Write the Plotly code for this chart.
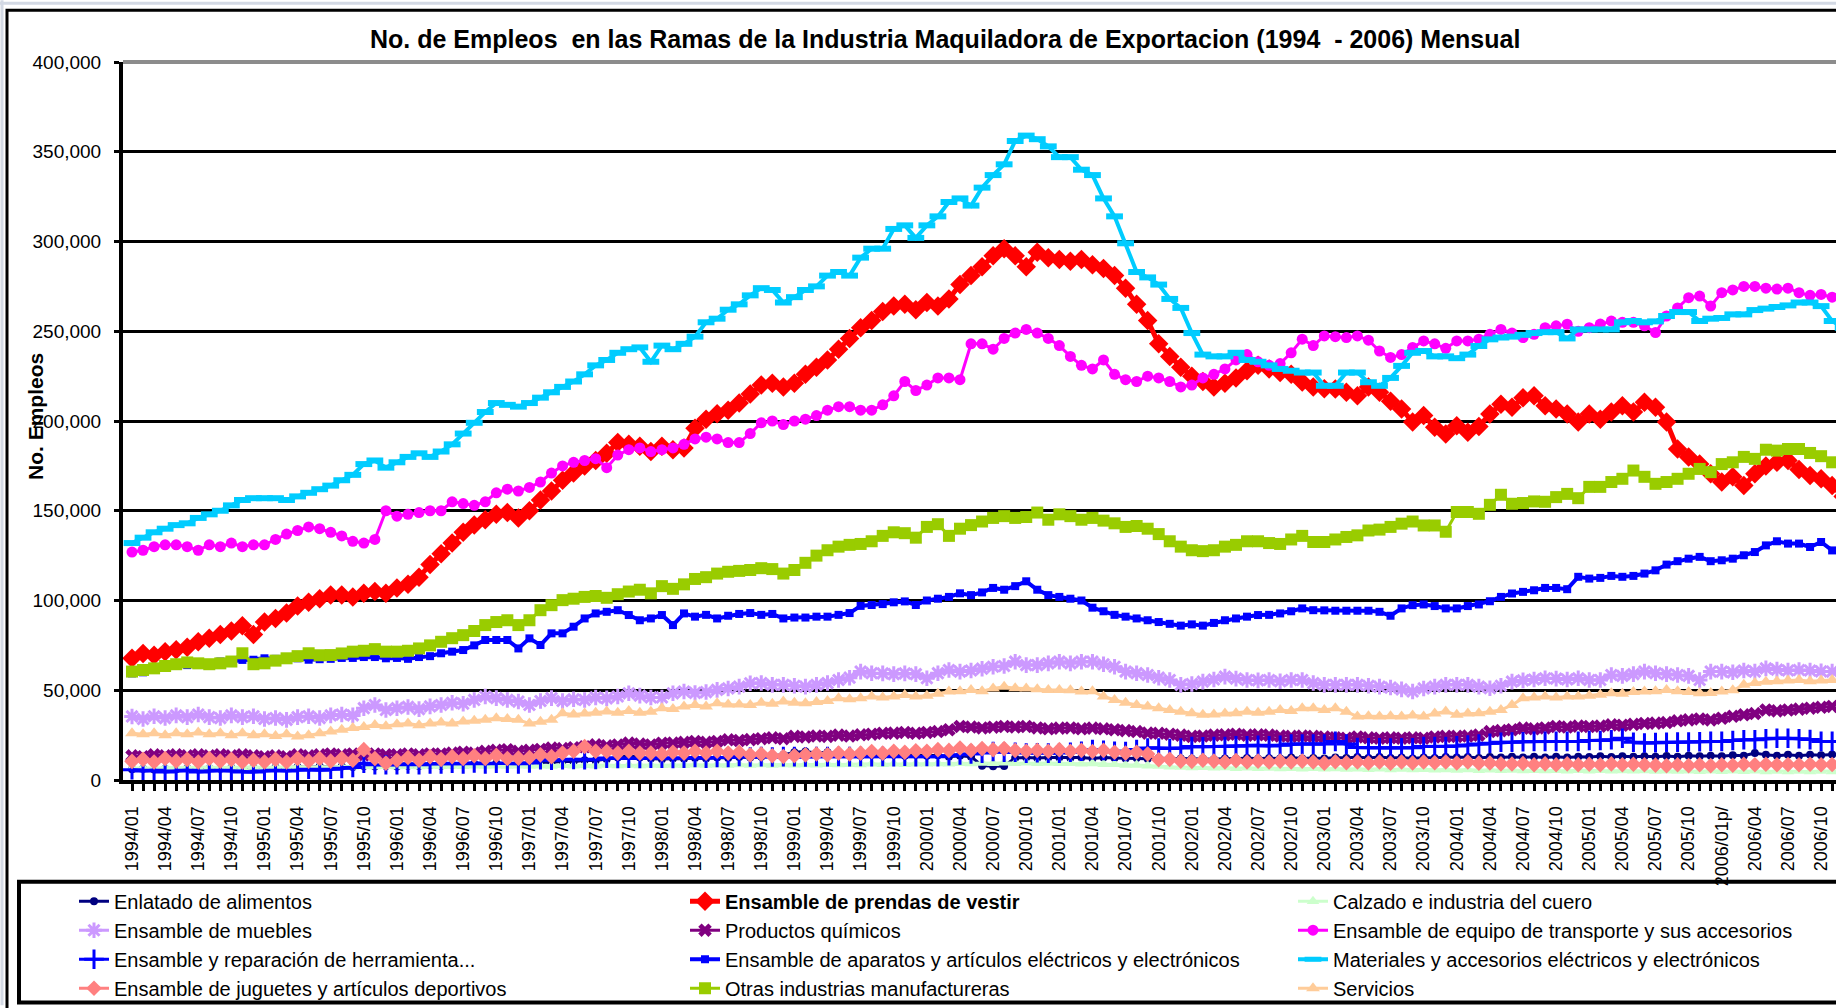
import plotly.graph_objects as go

# ---------------- categories ----------------
years = list(range(1994, 2007))
months = [f"{y}/{m:02d}" for y in years for m in range(1, 13)]
tick_labels = ["1994/01", "1994/04", "1994/07", "1994/10", "1995/01", "1995/04", "1995/07", "1995/10",
               "1996/01", "1996/04", "1996/07", "1996/10", "1997/01", "1997/04", "1997/07", "1997/10",
               "1998/01", "1998/04", "1998/07", "1998/10", "1999/01", "1999/04", "1999/07", "1999/10",
               "2000/01", "2000/04", "2000/07", "2000/10", "2001/01", "2001/04", "2001/07", "2001/10",
               "2002/01", "2002/04", "2002/07", "2002/10", "2003/01", "2003/04", "2003/07", "2003/10",
               "2004/01", "2004/04", "2004/07", "2004/10", "2005/01", "2005/04", "2005/07", "2005/10",
               "2006/01p/", "2006/04", "2006/07", "2006/10"]

# ---------------- series values (thousands of jobs) ----------------
enlatado = [
    6, 6.2, 5.8, 6.3, 6, 6.5, 6.2, 6.5, 6.3, 6.8, 6.5, 6.8,
    6.5, 7, 6.8, 7.2, 7, 7.5, 7.2, 7.5, 7.3, 7.8, 7.5, 7.8,
    7.5, 8, 7.8, 8.3, 8, 8.5, 8.3, 9, 8.8, 9.3, 9, 9.5,
    9.3, 10, 9.8, 10.5, 10.2, 11, 10.8, 11.5, 12.5, 13.7, 12.5, 12,
    11.5, 12, 11.8, 12.3, 12, 12.5, 12.2, 12.8, 12.5, 13, 13.5, 14,
    15.5, 15.9, 15, 15.5, 14.5, 14, 13.5, 14, 13.5, 14, 13.5, 14,
    13.5, 13.8, 13, 13.5, 13, 8, 7.6, 7.8, 12.2, 12.5, 12.2, 12.5,
    12.5, 12.2, 12.5, 12, 12.5, 12.2, 12, 12.2, 11.8, 12.2, 11.8, 12,
    11.8, 12, 11.5, 12, 11.8, 12.2, 11.8, 12.2, 12, 12.5, 12, 12.2,
    12, 12.5, 12.2, 12.8, 12.3, 12.8, 12.2, 12.5, 12, 12.5, 12.2, 12.8,
    12.5, 12.8, 12.3, 12.8, 12.5, 13, 12.6, 13, 12.5, 13, 12.5, 13,
    12.8, 13.2, 12.8, 13.3, 12.9, 13.3, 13, 13.4, 13, 13.5, 13.2, 13.5,
    13.3, 13.8, 13.5, 15, 14, 13.5, 14, 13.5, 14, 13.8, 14.2, 13.8]

prendas = [
    67.8, 70.5, 69.5, 71.5, 72.5, 74, 77, 79, 81, 83, 86, 81,
    88, 90, 93, 97, 99, 101, 103, 103, 102, 104, 105, 104,
    107, 109, 113, 120, 126, 132, 138, 142, 145, 148, 149, 146,
    150, 156, 161, 167, 171, 175, 178, 182, 188, 187, 186, 183,
    186, 184, 185, 196, 201, 204, 206, 210, 215, 220, 221, 219,
    221, 226, 230, 234, 240, 246, 252, 256, 261, 264, 265, 262,
    266, 264, 268, 276, 281, 286, 292, 296, 292, 286, 294, 291,
    290, 289, 290, 287, 285, 281, 274, 265, 256, 243, 236, 230,
    225, 222, 219, 221, 224, 228, 231, 229, 227, 226, 221.7, 219,
    218, 217.8, 216, 214, 219, 216, 211, 206.7, 199.4, 203, 196.5, 192.8,
    197.4, 193.7, 197, 203.9, 209.4, 207.6, 213, 214, 208.5, 206.7, 203.9, 199.4,
    203.9, 201, 205, 208.5, 205, 210.4, 207.6, 199.4, 184.4, 180, 176, 170.6,
    166, 168.9, 164, 170.6, 175, 177, 178, 173, 169.6, 167.8, 164, 158]

calzado = [
    6.5, 6.8, 6.6, 7, 6.8, 7, 6.8, 7.2, 7, 7.2, 7, 7.2,
    7, 7.2, 7, 7.4, 7.2, 7.4, 7.2, 7.5, 7.4, 7.6, 7.5, 7.6,
    7.5, 7.7, 7.5, 7.8, 7.6, 7.8, 7.6, 8, 7.8, 8, 7.8, 8,
    7.8, 8, 7.8, 8.2, 8, 8.2, 8, 8.3, 8.1, 8.3, 8.1, 8.3,
    8.2, 8.4, 8.2, 8.5, 8.3, 8.5, 8.3, 8.6, 8.4, 8.6, 8.4, 8.6,
    8.5, 8.7, 8.5, 8.8, 8.6, 8.8, 8.6, 9, 8.8, 9, 8.8, 9,
    9, 9.2, 9, 9.4, 9.2, 9.5, 9.3, 9.6, 9.4, 9.6, 9.4, 9.5,
    9.3, 9.4, 9.1, 9.2, 8.8, 8.8, 8.4, 8.3, 7.9, 7.8, 7.4, 7.3,
    7, 7.1, 6.8, 6.9, 6.6, 6.8, 6.5, 6.7, 6.4, 6.6, 6.3, 6.5,
    6.2, 6.4, 6.1, 6.3, 6, 6.2, 5.9, 6.1, 5.8, 6, 5.7, 5.9,
    5.6, 5.8, 5.5, 5.7, 5.4, 5.6, 5.3, 5.5, 5.3, 5.5, 5.2, 5.4,
    5.2, 5.4, 5.1, 5.3, 5.1, 5.3, 5, 5.2, 5, 5.2, 4.9, 5.1,
    4.9, 5.1, 4.9, 5.1, 4.8, 5, 4.8, 5, 4.8, 5, 4.8, 5]

muebles = [
    35.4, 34, 35.5, 34.5, 36, 35, 36.5, 35, 34.5, 36, 35, 35.5,
    34, 34.5, 33.5, 35, 35.5, 34.5, 36, 36.5, 36, 40, 41.8, 39,
    40, 40.7, 39.5, 41, 41.8, 43, 42.5, 44.6, 46.5, 45.6, 44.6, 43.7,
    41.8, 44, 45.6, 44, 45, 44.6, 46, 45.5, 46.5, 48.3, 47, 46,
    46, 48.3, 49.3, 48.5, 49, 50.2, 51, 52, 53.9, 54, 53, 53,
    52.5, 52, 53, 54, 55.7, 57, 60.4, 59.5, 59.4, 59, 59.4, 59,
    56.7, 59.5, 61.3, 60.4, 61, 62, 63.1, 63.5, 65.9, 64, 64, 65,
    65.9, 65, 65.9, 65.9, 64.5, 63.1, 60.4, 59.5, 58.5, 57, 55.7, 53,
    53.5, 54.8, 56, 57.6, 56.5, 55.7, 55.5, 55.7, 55, 55.7, 55.7, 54,
    53, 53, 53, 53, 52.5, 52, 51.5, 50.5, 49.3, 51, 52, 53,
    53, 53, 52, 51.1, 52.5, 54.8, 55.5, 56, 56.7, 56.5, 56, 56.7,
    55.7, 55.7, 58.5, 58, 59, 60.4, 59.5, 59, 58.5, 58, 55.7, 60.4,
    60.4, 60, 61, 60.4, 62.2, 61.5, 61, 61.3, 61, 60.5, 60.4, 60]

quimicos = [
    13.5, 13, 14, 13.5, 14, 13.5, 14, 13.5, 14, 13.5, 14, 13.5,
    13, 13.5, 13, 14, 13.5, 14, 14.5, 14, 14.5, 14, 14.5, 14,
    14, 14.5, 14, 14.5, 14.5, 15, 15.5, 15, 16, 16.5, 16.9, 16,
    16.5, 17, 17.8, 17.5, 18, 18.5, 19.6, 19, 19.5, 20.6, 20, 19.5,
    20.5, 20.6, 21, 21.5, 21, 21.5, 22.4, 22, 22.5, 23, 23.5, 23,
    24.3, 24, 24.5, 24.3, 25, 24.5, 25.2, 25.5, 26, 26.1, 26.5, 26,
    26.5, 27, 28, 29.8, 29.5, 29, 29.4, 29.8, 29.5, 29.8, 29, 28.5,
    28.9, 29, 28.5, 28.9, 28.5, 28, 27.5, 27, 26.1, 26, 25.5, 25,
    24.3, 24.5, 25, 25.2, 25.5, 25, 25.2, 25, 24.5, 24.3, 24.5, 24.3,
    24, 23.5, 23.3, 24, 23.5, 23.3, 23.5, 23.3, 23.5, 23.3, 24, 24.3,
    24.3, 24.5, 25, 27, 27.5, 28, 28.9, 28.5, 29, 29.8, 29.5, 30,
    29.8, 30, 30.7, 30.5, 31, 31.5, 31.7, 32, 33, 33.5, 34, 33.5,
    34.4, 35.5, 36.3, 37, 39, 38.5, 39, 39.5, 40, 40.5, 41, 37]

transporte = [
    127, 128, 130, 131, 131, 130, 128, 131, 130, 132, 130, 131,
    131, 134, 137, 139, 141, 140, 138, 136, 133, 132, 134, 150,
    147, 148, 149, 150, 150, 155, 154, 153, 155, 160, 162, 161,
    163, 166, 171, 175, 177, 178, 179, 174, 181, 184, 185, 183,
    184, 185, 187, 190, 191, 190, 188, 188, 193, 199, 200, 198,
    200, 201, 203, 206, 208, 208, 206, 206, 209, 214, 222, 217,
    220, 224, 224, 223, 243, 243, 240, 246, 249, 251, 249, 246,
    242, 236, 231, 229, 234, 226, 223, 222, 225, 224, 222, 219,
    220, 224, 226, 229, 234, 237, 233, 231, 232, 238, 245.6, 242,
    247.4, 247, 246.5, 247.4, 245, 239, 235.4, 237, 241, 244.6, 243, 240.5,
    244.6, 244.6, 245.6, 248.3, 251, 249, 246.5, 248.3, 252, 253, 253.9, 250,
    252, 254, 255.7, 255, 255, 253, 249.3, 258.5, 263, 268.7, 269.6, 264,
    271.5, 273, 275, 275, 274, 273.5, 274, 271.5, 270, 270.5, 269, 267]

herramienta = [
    5.7, 5, 5.5, 4.5, 5, 5.5, 4.5, 5, 5.5, 5, 4.5, 4.4,
    5, 5.5, 5, 5.5, 6, 5.5, 6, 6.5, 7, 9.4, 8.5, 8.5,
    8.5, 9, 8.5, 9, 9, 9.4, 9, 9.5, 9, 9.4, 9.4, 9,
    9.5, 11.3, 11, 11.3, 11.5, 11.3, 11.5, 12.2, 12, 12.2, 12, 12.2,
    12.2, 12, 12.2, 12.5, 12.2, 12.5, 12.5, 13.1, 12.8, 13, 12.8, 13,
    13, 12.8, 13.1, 13, 13.1, 13, 13.1, 13, 13.1, 13, 13.2, 13,
    13.1, 13, 13.5, 14, 14.5, 15, 15.9, 15.5, 15.5, 15, 15.2, 15,
    15, 15.5, 16, 16.9, 16.5, 16, 15.9, 17, 17.8, 17.8, 17.5, 17.8,
    18.7, 18.5, 18.7, 18.7, 19, 19, 19.3, 19, 19.3, 20, 20, 20,
    20, 21.5, 20, 18.1, 18, 18, 17.8, 18, 18, 18.7, 18.7, 18.7,
    19, 19.5, 20, 20.5, 21, 21.1, 21.3, 21.5, 21.5, 21.5, 21.5, 21.5,
    22, 22, 22.4, 23.3, 21, 20.6, 20.8, 21, 21.1, 21.2, 21.3, 21.5,
    21.5, 22, 22.4, 22.4, 23, 23.3, 23.3, 23, 22.5, 21.5, 21.5, 21.5]

aparatos = [
    59.4, 60, 61.5, 62.5, 63.5, 64, 64.5, 65, 66, 66.5, 66.9, 67,
    67.8, 67.5, 67.5, 67.8, 67, 67.3, 67.5, 68, 68, 68.5, 68.5, 67.8,
    68, 67.5, 68.5, 69, 70.6, 71.5, 72.4, 75, 78, 78, 78, 73.3,
    78.9, 75.2, 81.7, 81.7, 85.4, 90, 92.8, 93.7, 94.6, 91.9, 89, 90,
    91.9, 86.3, 92.8, 91, 92, 90, 91.5, 92.5, 93, 92, 92.5, 90,
    90.5, 90.5, 91, 91, 92, 93, 97, 97.5, 98, 99, 99.5, 97.5,
    100, 101, 102, 104, 103, 104.5, 107, 106, 108, 110.7, 106, 103,
    102, 101, 100, 96, 94, 92, 91, 90, 89, 88, 87, 86,
    86.7, 86, 87.5, 89, 90, 91, 91.9, 92, 92.8, 94, 95.6, 94.6,
    94.5, 94.3, 94.3, 94.3, 94.3, 93.7, 91.5, 95.6, 97.4, 97.8, 96.9, 95.6,
    95.6, 96.9, 97.8, 99.6, 102, 103.9, 104.8, 105.7, 107, 107, 106.3, 113.2,
    112.2, 112.6, 113.7, 113.2, 113.7, 115, 116.8, 120, 121.9, 123.3, 124.3, 121.9,
    122.4, 123.3, 125.2, 127, 130.7, 133, 131.7, 131.7, 129.8, 132.6, 127.9, 126]

materiales = [
    132, 135, 138, 140, 142, 143, 146, 148, 150, 153, 156, 157,
    157, 157, 156, 158, 160, 162, 164, 167, 170, 176, 178, 174,
    177, 180, 182, 180, 183, 187, 193, 199, 205, 210, 209, 208,
    210, 213, 216, 219, 222, 226, 231, 234, 238, 240, 241, 233,
    242, 240, 243, 247, 255, 257, 262, 265, 270, 274, 273, 266,
    269, 273, 275, 281, 283, 281, 291, 296, 296, 307, 309, 302,
    309, 314, 322, 324, 320, 330, 337, 343, 356, 359, 357, 353,
    347, 347, 340, 337, 324, 314, 299, 283, 280, 276, 268, 263,
    249, 237, 236, 236, 238, 234, 233, 231, 229, 228, 227, 227,
    219.6, 219.6, 227, 227, 221.6, 219.6, 224, 230.7, 238, 239, 236, 236,
    235, 237, 241.8, 245.5, 246.5, 247, 248, 249, 249.5, 249.5, 246, 251,
    251, 251, 251, 255, 255.7, 255, 255.5, 258.5, 260.7, 260.7, 255.7, 257,
    257.4, 259.4, 259.4, 261.8, 262.6, 263.5, 264.4, 266, 266, 264, 255.7, 252]

juguetes = [
    10.4, 11.5, 10, 12, 10.5, 11.5, 10, 12, 10.5, 11.5, 10, 11,
    10, 11.5, 10, 12, 10.5, 12, 10.5, 12, 11, 16.9, 12, 9.4,
    11, 12.5, 11, 13, 11.5, 13, 12, 13.5, 12, 13.7, 12, 12.2,
    12.5, 14, 13, 15, 16, 18.7, 16, 15.9, 15, 16, 15, 15,
    14.5, 15.5, 15, 16, 15, 16, 15, 15.5, 14, 14.5, 13.5, 13.1,
    13.5, 14, 14.5, 14, 15, 14.5, 15, 15.9, 15, 16, 15.5, 16.3,
    16, 16.9, 16.5, 17.8, 16.5, 17.5, 16.9, 17.5, 16.5, 16, 16.5, 16,
    16.9, 16, 16.5, 15.9, 16.5, 15.5, 15, 15.5, 14.5, 11.3, 11.5, 10.5,
    10.4, 11, 10.5, 10, 10.8, 10, 10.5, 10, 10.5, 10, 10.5, 10,
    9.4, 10.2, 9.6, 10, 9.5, 10, 9.4, 10, 9.5, 10, 9.6, 10,
    9.5, 10, 9.4, 9.5, 9, 8.9, 9.2, 8.5, 9, 8.5, 9, 8.5,
    8.8, 8.5, 9, 8.5, 8.8, 8.5, 8.3, 8, 8.5, 8, 8.5, 8,
    8.5, 8.2, 8.8, 8.5, 8.8, 8.5, 8.6, 8.5, 8.8, 8.5, 8.6, 8.5]

otras = [
    60.4, 61.3, 62.2, 63.5, 64.5, 65.5, 65, 64.5, 65, 66, 70.6, 64.5,
    65, 66.5, 67.8, 69, 70.6, 69.5, 69.6, 70.5, 71.5, 72, 72.9, 71.5,
    71.5, 72, 73.3, 75, 77, 79, 80.7, 83, 86.3, 88, 89, 86.3,
    89, 94.6, 97.4, 100.2, 101, 102, 102.5, 101.5, 103.5, 105, 106, 104,
    108, 106.5, 109, 112, 113, 115, 116, 116.5, 117, 118, 117.5, 115,
    117, 121, 125, 128, 130, 131, 131.5, 133, 136, 138, 137.5, 135,
    141, 142.5, 136, 140, 142, 144, 146, 147, 146, 146.5, 149, 145,
    148, 147, 145, 146, 144.5, 143, 141, 141.5, 140, 137, 133, 130,
    128, 127.5, 128, 130, 131, 133, 133, 132, 131.5, 134, 136, 132.6,
    132.6, 134, 135.4, 136.3, 139, 139.5, 141, 142.8, 144, 141.8, 141.8, 138.3,
    149.3, 149.3, 148.3, 153.3, 158.9, 153.9, 154.3, 155.2, 155, 157.6, 159.4, 157,
    163.3, 163.3, 166, 167.8, 172.4, 168.9, 165, 166, 167.8, 170.6, 173.3, 171.5,
    176, 177, 180, 178.9, 184, 183.5, 184.4, 184.4, 182.2, 180.4, 177, 174]

servicios = [
    26.1, 25.5, 26, 25, 26, 25.5, 26.5, 25.5, 26, 25, 26, 25,
    25.5, 24.5, 25.5, 24.3, 25, 26, 27, 28, 28.9, 29.5, 30.7, 30,
    31, 31.5, 30.5, 31.5, 32, 31.5, 32.6, 33, 33.5, 34.4, 34, 33.5,
    31.5, 32.5, 33.5, 37.2, 36.5, 37, 37.5, 38.1, 37.5, 38.5, 37.5, 38,
    40, 39.5, 41, 41.8, 41, 42.8, 42, 42, 41.8, 43, 42.5, 43.7,
    43, 42.8, 43.5, 44, 45.6, 45, 45.5, 46.5, 46, 46.5, 47.4, 46.5,
    47, 48, 49.3, 49.5, 50.2, 49.5, 51, 52, 51.1, 51, 50.5, 50.2,
    50.2, 50, 49.3, 49.5, 46.5, 44.6, 43, 41.8, 41, 40, 39, 38,
    37.2, 36.3, 36.5, 37, 37.2, 38, 37.5, 38, 39, 38.5, 40, 40,
    39, 40, 38, 35.4, 35.5, 35.4, 35.5, 35.4, 36, 35.4, 37, 38.1,
    36.3, 37, 37.2, 38, 39, 41.8, 45.6, 46, 46.5, 46, 46.5, 46.5,
    47, 47.5, 48.3, 48, 49, 49.3, 49.5, 50.2, 49.5, 49, 48.3, 48.5,
    49.3, 50, 53, 54, 54.8, 55, 55.5, 55.7, 55, 55.5, 55.7, 55]

series_names = ["Enlatado de alimentos", "<b>Ensamble de prendas de vestir</b>", "Calzado e industria del cuero",
                "Ensamble de muebles", "Productos químicos", "Ensamble de equipo de transporte y sus accesorios",
                "Ensamble y reparación de herramienta...", "Ensamble de aparatos y artículos eléctricos y electrónicos",
                "Materiales y accesorios eléctricos y electrónicos", "Ensamble de juguetes y artículos deportivos",
                "Otras industrias manufactureras", "Servicios"]
series_values = [enlatado, prendas, calzado, muebles, quimicos, transporte,
                 herramienta, aparatos, materiales, juguetes, otras, servicios]

# styles: (color, line width, symbol, marker size, marker line width)
styles = [
    ("#000080", 3, "circle", 8, 0),
    ("#FF0000", 5, "diamond", 15, 0),
    ("#CCFFCC", 3, "triangle-up", 11, 0),
    ("#CC99FF", 3, "asterisk", 13, 3),
    ("#800080", 3, "x", 12, 0),
    ("#FF00FF", 3, "circle", 11, 0),
    ("#0000FF", 3, "cross-thin", 14, 3),
    ("#0000FF", 4, "square", 8, 0),
    ("#00CCFF", 4, "line-ew", 12, 6),
    ("#FF8080", 3, "diamond", 12, 0),
    ("#99CC00", 3, "square", 12, 0),
    ("#FFCC99", 3, "triangle-up", 12, 0),
]

FONT = "Liberation Sans, Arial, Helvetica, sans-serif"
legend_ids = ["legend", "legend2", "legend3"]

fig = go.Figure()
for k, (name, vals, (col, lw, sym, ms, mlw)) in enumerate(zip(series_names, series_values, styles)):
    marker = dict(symbol=sym, size=ms, color=col)
    if mlw:
        marker["line"] = dict(color=col, width=mlw)
    fig.add_trace(go.Scatter(x=months, y=[v * 1000 for v in vals], name=name, mode="lines+markers",
                             line=dict(color=col, width=lw), marker=marker,
                             legend=legend_ids[k % 3]))

# geometry helpers (pixel -> paper)
L, T, W, H = 123, 62, 1713, 720
FW, FH = 1836, 1008
def px(p):
    return (p - L) / W
def py(p):
    return (T + H - p) / H

ticktext = []
for i, m in enumerate(months):
    if i % 3 == 0:
        ticktext.append(tick_labels[i // 3])
    else:
        ticktext.append("")

def make_legend(xpix):
    return dict(orientation="v", x=px(xpix), xanchor="left", y=py(884), yanchor="top",
                font=dict(family=FONT, size=20, color="black"),
                bgcolor="rgba(0,0,0,0)", borderwidth=0, traceorder="normal",
                tracegroupgap=0)

fig.update_layout(
    width=FW, height=FH,
    margin=dict(l=L, r=0, t=T, b=FH - T - H, pad=0),
    paper_bgcolor="white", plot_bgcolor="white",
    font=dict(family=FONT, color="black"),
    showlegend=True,
    legend=make_legend(74),
    legend2=make_legend(685),
    legend3=make_legend(1293),
    xaxis=dict(type="category", range=[-0.815, 154.35], tickmode="array", tickvals=months,
               ticktext=ticktext, tickangle=-90, ticks="outside", ticklen=7, tickwidth=3,
               tickcolor="black", showline=True, linecolor="black", linewidth=4,
               showgrid=False, zeroline=False, ticklabelstandoff=8,
               tickfont=dict(family=FONT, size=18, color="black")),
    yaxis=dict(range=[0, 400000], tickmode="array",
               tickvals=[0, 50000, 100000, 150000, 200000, 250000, 300000, 350000, 400000],
               tickformat=",d", ticks="outside", ticklen=5, tickwidth=3, tickcolor="black",
               showline=True, linecolor="black", linewidth=4, showgrid=True,
               gridcolor="black", gridwidth=3, zeroline=False, ticklabelstandoff=9,
               tickfont=dict(family=FONT, size=19, color="black")),
)

fig.add_annotation(text="<b>No. de Empleos\u00a0 en las Ramas de la Industria Maquiladora de Exportacion (1994\u00a0 - 2006) Mensual</b>",
                   xref="paper", yref="paper", x=px(945), y=py(39), xanchor="center", yanchor="middle",
                   showarrow=False, font=dict(family=FONT, size=25, color="black"))
fig.add_annotation(text="<b>No. Empleos</b>", textangle=-90, xref="paper", yref="paper",
                   x=px(35), y=py(418), xanchor="center", yanchor="middle", showarrow=False,
                   font=dict(family=FONT, size=21, color="black"))

shapes = [
    # light window edges
    dict(type="line", xref="paper", yref="paper", x0=px(2), x1=px(2), y0=py(0), y1=py(1008),
         line=dict(color="#d3d9e4", width=3)),
    dict(type="line", xref="paper", yref="paper", x0=px(0), x1=px(1836), y0=py(3), y1=py(3),
         line=dict(color="#d3d9e4", width=3)),
    # outer chart border
    dict(type="rect", xref="paper", yref="paper", x0=px(7), x1=px(1850), y0=py(1015), y1=py(10),
         line=dict(color="black", width=3)),
    # top of plot area (grey)
    dict(type="line", xref="paper", yref="paper", x0=0, x1=1, y0=1, y1=1,
         line=dict(color="#8c8c8c", width=4)),
    # legend box
    dict(type="rect", xref="paper", yref="paper", x0=px(19), x1=px(1850), y0=py(1005), y1=py(884),
         line=dict(color="black", width=4)),
]
fig.update_layout(shapes=shapes)

fig.write_html("out.html", config={"displayModeBar": False},
               post_script="document.body.style.margin='0';document.body.style.overflow='hidden';")
